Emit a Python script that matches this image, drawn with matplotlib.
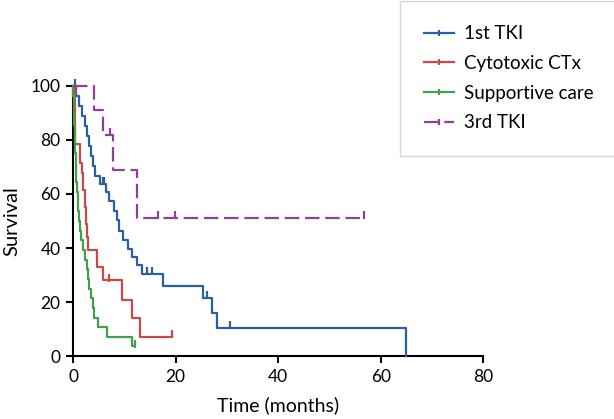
import numpy as np
import matplotlib

matplotlib.use("Agg")
import matplotlib.pyplot as plt
from matplotlib.lines import Line2D

plt.rcParams["font.family"] = ["Lato", "DejaVu Sans"]

# Kaplan-Meier steps: event time (months) -> survival after the event
tki1_t = [0.6, 1.2, 1.8, 2.3, 2.7, 3.1, 3.5, 3.9, 4.3, 5.2, 6.5, 7.0, 8.0, 8.5, 9.0,
          9.8, 10.8, 11.4, 12.4, 13.4, 17.6, 25.3, 27.1, 28.1, 65.0]
tki1_s = [96.3, 92.6, 88.9, 85.2, 81.5, 77.8, 74.1, 70.4, 66.7, 63.8, 60.6, 57.4, 53.8, 50.2, 46.4,
          43.0, 39.8, 36.8, 33.7, 30.4, 25.9, 21.6, 15.8, 10.6, 0.0]
tki1_cens = [0.3, 5.8, 6.1, 14.4, 15.3, 26.1, 30.6]
tki1_end = 65.0

ctx_t = [0.3, 1.35, 1.7, 2.0, 2.3, 2.6, 2.8, 3.0, 4.6, 5.9, 9.5, 11.5, 13.1]
ctx_s = [78.5, 71.5, 67.7, 61.5, 55.3, 49.0, 44.0, 39.3, 33.1, 28.1, 20.7, 14.0, 7.2]
ctx_cens = [7.1, 19.3]
ctx_end = 19.3

sup_t = [0.05, 0.1, 0.15, 0.2, 0.3, 0.35, 0.4, 0.5, 0.55, 0.65, 0.75, 0.9, 1.0, 1.15,
         1.3, 1.45, 1.9, 2.4, 2.8, 2.95, 3.2, 3.5, 3.8, 4.1, 4.9, 6.6, 11.5]
sup_s = [96.4, 92.9, 89.3, 85.7, 82.1, 78.6, 75.0, 71.4, 67.9, 64.3, 60.7, 57.1, 53.6, 50.0,
         46.4, 42.9, 39.3, 35.7, 32.1, 28.6, 25.0, 21.4, 17.9, 14.3, 10.7, 7.1, 3.6]
sup_cens = [12.0]
sup_end = 12.0

tki3_t = [4.0, 5.8, 7.7, 12.5]
tki3_s = [91.0, 82.0, 68.9, 51.2]
tki3_cens = [7.2, 16.6, 19.9, 56.8]
tki3_end = 56.8

labels = ["1st TKI", "Cytotoxic CTx", "Supportive care", "3rd TKI"]
colors = ["#2c5f9b", "#c94a44", "#449f4a", "#8b4197"]

groups = [
    (tki1_t, tki1_s, tki1_cens, tki1_end),
    (ctx_t, ctx_s, ctx_cens, ctx_end),
    (sup_t, sup_s, sup_cens, sup_end),
    (tki3_t, tki3_s, tki3_cens, tki3_end),
]

fig = plt.figure(figsize=(6.14, 4.19), dpi=100)
ax = fig.add_axes([0.119, 0.150, 0.668, 0.645])

lw = 1.6
dash = (6.5, 2.6)
handles = []
for i, (t, s, cens, end) in enumerate(groups):
    xs = np.r_[0.0, t, end]
    ys = np.r_[100.0, s, s[-1]]
    ls = (0, dash) if i == 3 else "-"
    ax.step(xs, ys, where="post", color=colors[i], lw=lw, linestyle=ls,
            clip_on=False, zorder=3)
    # censored observations sit on the curve
    idx = np.searchsorted(np.asarray(t), cens, side="right") - 1
    cy = np.where(idx >= 0, np.asarray(s)[np.clip(idx, 0, None)], 100.0)
    ax.plot(cens, cy + 1.0, linestyle="none", marker="|", markersize=6,
            markeredgewidth=lw, color=colors[i], clip_on=False, zorder=3)
    handles.append(Line2D([], [], color=colors[i], lw=lw, linestyle=ls,
                          marker="|", markersize=5, markeredgewidth=lw))

ax.set_xlim(0, 80)
ax.set_ylim(0, 100)
ax.set_xticks([0, 20, 40, 60, 80])
ax.set_yticks([0, 20, 40, 60, 80, 100])
for side in ["top", "right"]:
    ax.spines[side].set_visible(False)
for side in ["left", "bottom"]:
    ax.spines[side].set_linewidth(1.5)
ax.tick_params(direction="out", length=5, width=1.5, labelsize=12.5, pad=4)
ax.set_xlabel("Time (months)", fontsize=14, labelpad=8)
ax.set_ylabel("Survival", fontsize=14.5, labelpad=7)

leg = fig.legend(handles, labels, loc="upper left", bbox_to_anchor=(0.651, 0.998),
                 fontsize=13.5, frameon=True, fancybox=False, edgecolor="#cccccc",
                 handlelength=1.6, handletextpad=0.55,
                 labelspacing=0.68, borderpad=1.3, borderaxespad=0)
leg.get_frame().set_linewidth(1.0)

fig.savefig("out.png", dpi=100)
